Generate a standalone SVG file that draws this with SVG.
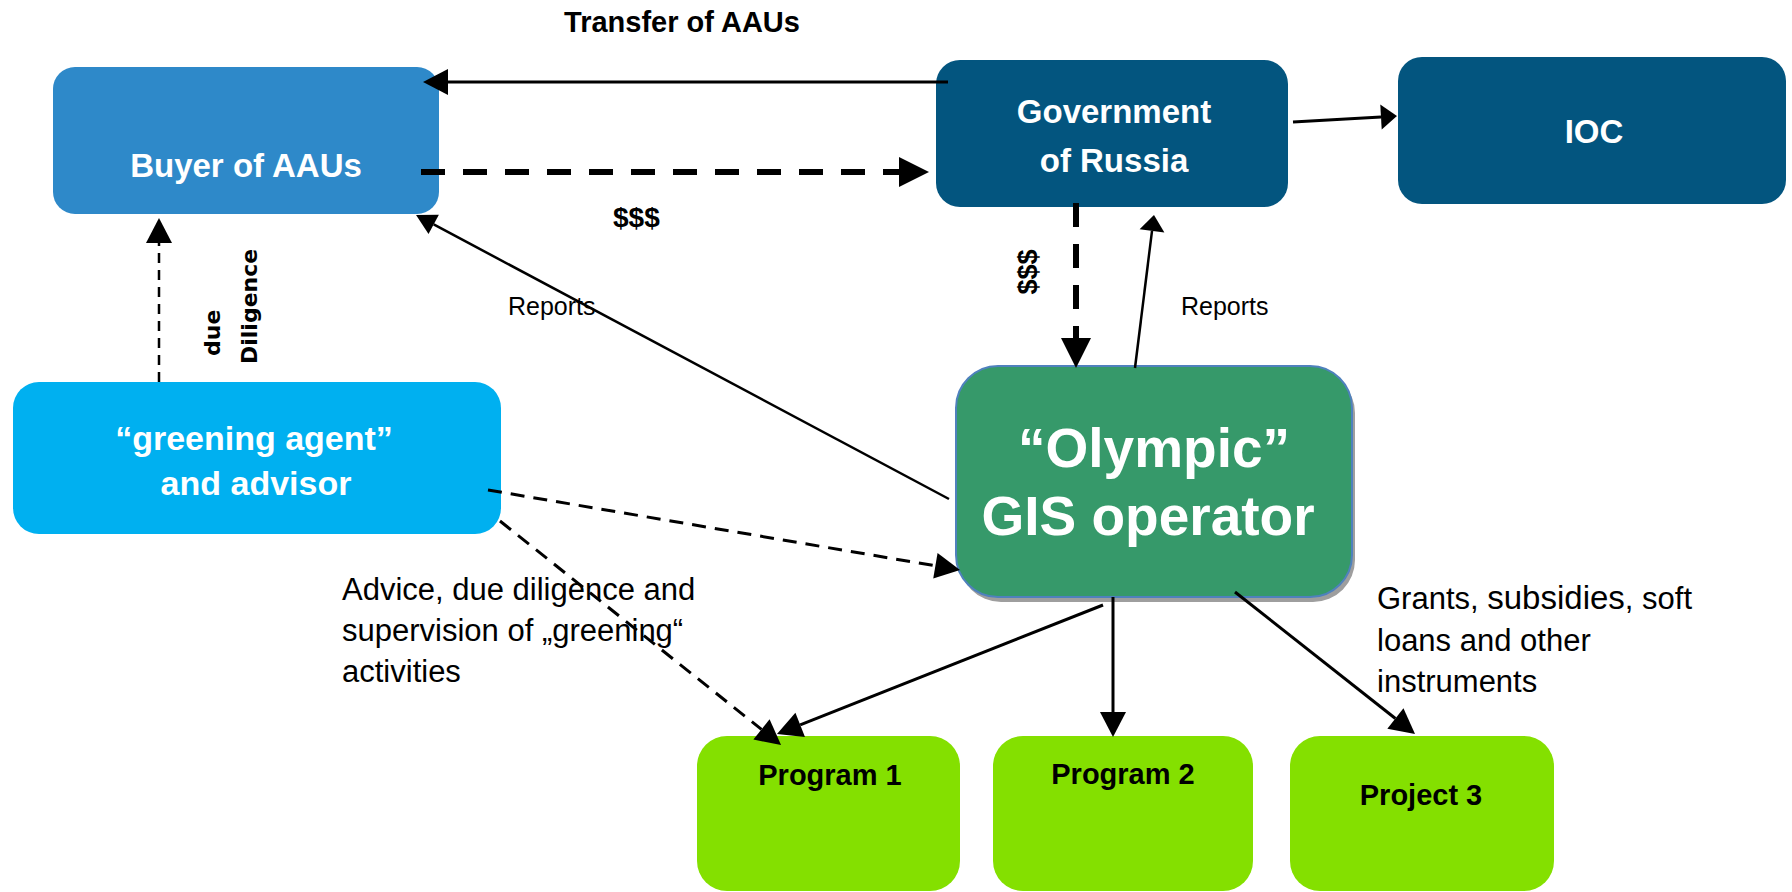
<svg xmlns="http://www.w3.org/2000/svg" width="1792" height="892" viewBox="0 0 1792 892">
<style>
  .t { font-family: "Liberation Sans", Arial, sans-serif; fill: #000; }
  .b { font-weight: bold; }
  .w { fill: #fff; font-weight: bold; }
  .mid { text-anchor: middle; }
  .dv { font-family: "DejaVu Sans", Verdana, sans-serif; font-weight: bold; font-size: 22px; fill: #000; }
  .con { fill: none; stroke: #000; }
</style>
<defs>
  <marker id="mBig" markerUnits="userSpaceOnUse" markerWidth="32" markerHeight="32" viewBox="0 -16 32 32" refX="0" refY="0" orient="auto" overflow="visible">
    <path d="M0,-15 L30,0 L0,15 Z" fill="#000"/>
  </marker>
  <marker id="mMed" markerUnits="userSpaceOnUse" markerWidth="28" markerHeight="28" viewBox="0 -14 28 28" refX="0" refY="0" orient="auto" overflow="visible">
    <path d="M0,-13 L25,0 L0,13 Z" fill="#000"/>
  </marker>
  <marker id="mRep" markerUnits="userSpaceOnUse" markerWidth="24" markerHeight="24" viewBox="0 -12 24 24" refX="0" refY="0" orient="auto" overflow="visible">
    <path d="M0,-11 L20,0 L0,11 Z" fill="#000"/>
  </marker>
  <marker id="mSm" markerUnits="userSpaceOnUse" markerWidth="28" markerHeight="28" viewBox="0 -14 28 28" refX="0" refY="0" orient="auto" overflow="visible">
    <path d="M0,-12.5 L16,0 L0,12.5 Z" fill="#000"/>
  </marker>
</defs>
<rect width="1792" height="892" fill="#fff"/>

<g id="buyer">
  <rect x="53" y="67" width="386" height="147" rx="22" fill="#2E89C9"/>
  <text class="t w mid" x="246" y="177" font-size="33">Buyer of AAUs</text>
</g>
<g id="government">
  <rect x="936" y="60" width="352" height="147" rx="24" fill="#03557F"/>
  <text class="t w mid" x="1114" y="123" font-size="33">Government</text>
  <text class="t w mid" x="1114" y="172" font-size="33">of Russia</text>
</g>
<g id="ioc">
  <rect x="1398" y="57" width="388" height="147" rx="24" fill="#03557F"/>
  <text class="t w mid" x="1594" y="143" font-size="33">IOC</text>
</g>
<g id="greening">
  <rect x="13" y="382" width="488" height="152" rx="26" fill="#00B0F0"/>
  <text class="t w mid" x="254" y="450" font-size="34">“greening agent”</text>
  <text class="t w mid" x="256" y="495" font-size="34">and advisor</text>
</g>
<g id="olympic">
  <rect x="959" y="371" width="396" height="231" rx="42" fill="#9E9E9E"/>
  <rect x="956" y="366" width="396" height="231" rx="42" fill="#36996A" stroke="#4F81BD" stroke-width="2"/>
  <text class="t w mid" x="1154" y="467" font-size="55">“Olympic”</text>
  <text class="t w mid" x="1148" y="535" font-size="55">GIS operator</text>
</g>
<g id="program1">
  <rect x="697" y="736" width="263" height="155" rx="30" fill="#84E000"/>
  <text class="t b mid" x="830" y="785" font-size="29">Program 1</text>
</g>
<g id="program2">
  <rect x="993" y="736" width="260" height="155" rx="30" fill="#84E000"/>
  <text class="t b mid" x="1123" y="784" font-size="29">Program 2</text>
</g>
<g id="project3">
  <rect x="1290" y="736" width="264" height="155" rx="30" fill="#84E000"/>
  <text class="t b mid" x="1421" y="805" font-size="29">Project 3</text>
</g>

<g id="connectors">
  <line class="con" x1="948" y1="82" x2="448" y2="82" stroke-width="3" marker-end="url(#mMed)"/>
  <line class="con" x1="421" y1="172" x2="899" y2="172" stroke-width="6" stroke-dasharray="24 18" marker-end="url(#mBig)"/>
  <line class="con" x1="1293" y1="122" x2="1381" y2="116.9" stroke-width="3" marker-end="url(#mSm)"/>
  <line class="con" x1="1076" y1="203" x2="1076" y2="338" stroke-width="6" stroke-dasharray="24 17" marker-end="url(#mBig)"/>
  <line class="con" x1="1135" y1="368" x2="1152" y2="230.9" stroke-width="2.5" marker-end="url(#mSm)"/>
  <line class="con" x1="949" y1="499" x2="433.7" y2="224.4" stroke-width="2.5" marker-end="url(#mRep)"/>
  <line class="con" x1="159" y1="382" x2="159" y2="243" stroke-width="2.5" stroke-dasharray="10 7" marker-end="url(#mMed)"/>
  <line class="con" x1="488" y1="490" x2="935.4" y2="565.8" stroke-width="3" stroke-dasharray="14 9" marker-end="url(#mMed)"/>
  <line class="con" x1="500" y1="521" x2="761.5" y2="729.4" stroke-width="3" stroke-dasharray="14 9" marker-end="url(#mMed)"/>
  <line class="con" x1="1103" y1="605" x2="800.2" y2="724.8" stroke-width="3" marker-end="url(#mMed)"/>
  <line class="con" x1="1113" y1="597" x2="1113" y2="712" stroke-width="3" marker-end="url(#mMed)"/>
  <line class="con" x1="1235" y1="592" x2="1395.4" y2="718.5" stroke-width="3" marker-end="url(#mMed)"/>
</g>

<g id="labels">
  <text class="t b mid" x="682" y="32" font-size="29">Transfer of AAUs</text>
  <text class="t b" x="613" y="227" font-size="28">$$$</text>
  <text class="t b mid" transform="translate(1037,272) rotate(-90)" font-size="27">$$$</text>
  <text class="dv" transform="translate(220,356) rotate(-90)">due</text>
  <text class="dv" transform="translate(257,364) rotate(-90)">Diligence</text>
  <text class="t" x="508" y="315" font-size="25">Reports</text>
  <text class="t" x="1181" y="315" font-size="25">Reports</text>
  <text class="t" font-size="31">
    <tspan x="342" y="600">Advice, due diligence and</tspan>
    <tspan x="342" y="641">supervision of „greening“</tspan>
    <tspan x="342" y="682">activities</tspan>
  </text>
  <text class="t" font-size="31">
    <tspan x="1377" y="609">Grants, <tspan font-size="33">subsidies</tspan>, soft</tspan>
    <tspan x="1377" y="651">loans and other</tspan>
    <tspan x="1377" y="692">instruments</tspan>
  </text>
</g>
</svg>
